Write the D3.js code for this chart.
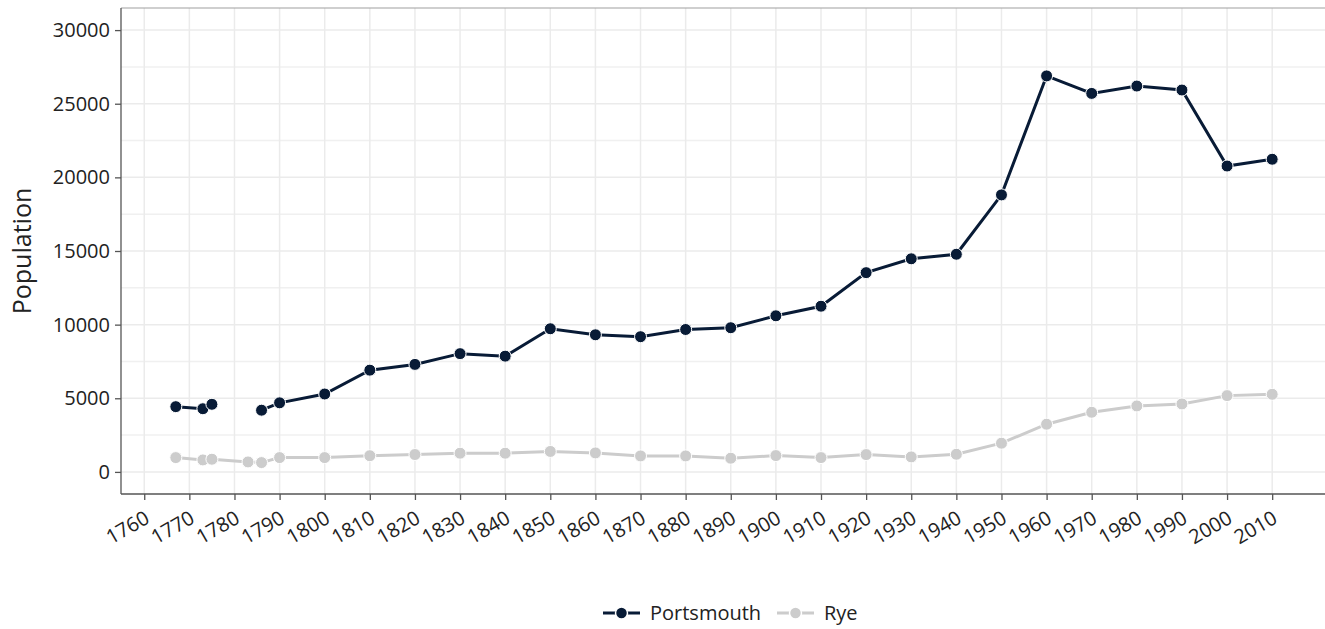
<!DOCTYPE html>
<html>
<head>
<meta charset="utf-8">
<script src="https://cdn.jsdelivr.net/npm/d3@7"></script>
<style>
  body { margin: 0; background: #fff; }
  text { font-family: "Open Sans", "Noto Sans", sans-serif; }
</style>
</head>
<body>
<div id="chart"></div>
<script>
let width = 1325;
let height = 629;
let margin = ({top: 8, right: -2, bottom: 135, left: 121});

// census years (1783 has no Portsmouth value)
let years = [1767, 1773, 1775, 1783, 1786, 1790, 1800, 1810, 1820, 1830, 1840, 1850, 1860, 1870,
             1880, 1890, 1900, 1910, 1920, 1930, 1940, 1950, 1960, 1970, 1980, 1990, 2000, 2010];
let portsmouth = [4430, 4290, 4590, null, 4190, 4690, 5290, 6910, 7300, 8030, 7860, 9720, 9310, 9180,
                  9670, 9790, 10600, 11250, 13530, 14470, 14780, 18810, 26890, 25700, 26200, 25930, 20770, 21230];
let rye = [971, 814, 860, 679, 633, 971, 971, 1100, 1180, 1270, 1270, 1390, 1290, 1086,
           1086, 930, 1108, 971, 1176, 1020, 1199, 1950, 3240, 4050, 4480, 4616, 5180, 5270];
let xTicks = d3.range(1760, 2011, 10);
let yTicks = [0, 5000, 10000, 15000, 20000, 25000, 30000];
let yMinor = [2500, 7500, 12500, 17500, 22500, 27500];

let seriesNames = ["Portsmouth", "Rye"];
let seriesColors = ["#081b36", "#cccccc"];

let svg = d3.select("#chart").append("svg")
    .attr("width", width)
    .attr("height", height);

let xScale = d3.scaleLinear()
    .domain([1754.85, 2022.15])
    .range([margin.left, width - margin.right]);

let yScale = d3.scaleLinear()
    .domain([-1500, 31500])
    .range([height - margin.bottom, margin.top]);

let plotBottom = height - margin.bottom;

// grid
let grid = svg.append("g");
grid.selectAll(".hmin").data(yMinor).enter().append("line")
    .attr("x1", margin.left).attr("x2", width)
    .attr("y1", d => yScale(d)).attr("y2", d => yScale(d))
    .attr("stroke", "#f0f0f0").attr("stroke-width", 1.5);
grid.selectAll(".hmaj").data(yTicks).enter().append("line")
    .attr("x1", margin.left).attr("x2", width)
    .attr("y1", d => yScale(d)).attr("y2", d => yScale(d))
    .attr("stroke", "#ebebeb").attr("stroke-width", 1.5);
grid.selectAll(".vmaj").data(xTicks).enter().append("line")
    .attr("y1", margin.top).attr("y2", plotBottom)
    .attr("x1", d => xScale(d)).attr("x2", d => xScale(d))
    .attr("stroke", "#ebebeb").attr("stroke-width", 1.5);

// top border
svg.append("line")
    .attr("x1", margin.left).attr("x2", width)
    .attr("y1", margin.top).attr("y2", margin.top)
    .attr("stroke", "#a0a0a0").attr("stroke-width", 1.2);

// axes
let xAxis = d3.axisBottom(xScale).tickValues(xTicks).tickFormat(d3.format("d"))
    .tickSizeOuter(0).tickSize(6).tickPadding(4);
let gx = svg.append("g")
    .attr("transform", "translate(0," + plotBottom + ")")
    .call(xAxis);
gx.select(".domain").attr("stroke", "#555").attr("stroke-width", 1.3).attr("d", "M" + margin.left + ",0H" + width);
gx.selectAll(".tick line").attr("stroke", "#555").attr("stroke-width", 1.3);
gx.selectAll(".tick text")
    .attr("font-size", 20).attr("fill", "#222")
    .attr("text-anchor", "end")
    .attr("dy", "0.71em")
    .attr("transform", "translate(-6,7) rotate(-30)");

let yAxis = d3.axisLeft(yScale).tickValues(yTicks).tickFormat(d3.format("d"))
    .tickSizeOuter(0).tickSize(6).tickPadding(5);
let gy = svg.append("g")
    .attr("transform", "translate(" + margin.left + ",0)")
    .call(yAxis);
gy.select(".domain").attr("stroke", "#555").attr("stroke-width", 1.3)
    .attr("d", "M0," + margin.top + "V" + plotBottom);
gy.selectAll(".tick line").attr("stroke", "#555").attr("stroke-width", 1.3);
gy.selectAll(".tick text").attr("font-size", 20).attr("fill", "#222");

svg.append("text")
    .attr("transform", "translate(31," + ((margin.top + plotBottom) / 2) + ") rotate(-90)")
    .attr("text-anchor", "middle")
    .attr("font-size", 25)
    .attr("fill", "#222")
    .text("Population");

// series
let series = [portsmouth, rye];
let line = d3.line()
    .defined(d => d[1] != null)
    .x(d => xScale(d[0]))
    .y(d => yScale(d[1]));

series.slice().reverse().forEach(function(vals, ri) {
    let i = series.length - 1 - ri;
    let pts = years.map((y, j) => [y, vals[j]]);
    svg.append("path")
        .datum(pts)
        .attr("fill", "none")
        .attr("stroke", seriesColors[i])
        .attr("stroke-width", 3)
        .attr("d", line);
    svg.selectAll(".pt" + i)
        .data(pts.filter(d => d[1] != null))
        .enter().append("circle")
        .attr("cx", d => xScale(d[0]))
        .attr("cy", d => yScale(d[1]))
        .attr("r", 6)
        .attr("fill", seriesColors[i])
        .attr("stroke", "#fff")
        .attr("stroke-width", 1);
});

// legend
let legend = svg.append("g").attr("transform", "translate(603,613)");
let legX = [0, 174];
seriesNames.forEach(function(name, i) {
    let g = legend.append("g").attr("transform", "translate(" + legX[i] + ",0)");
    g.append("line").attr("x1", 0).attr("x2", 37).attr("y1", 0).attr("y2", 0)
        .attr("stroke", seriesColors[i]).attr("stroke-width", 3);
    g.append("circle").attr("cx", 18.5).attr("cy", 0).attr("r", 6)
        .attr("fill", seriesColors[i]).attr("stroke", "#fff").attr("stroke-width", 1.5);
    g.append("text").attr("x", 47).attr("y", 0).attr("dy", "0.35em")
        .attr("font-size", 20).attr("fill", "#222").text(name);
});
</script>
</body>
</html>
